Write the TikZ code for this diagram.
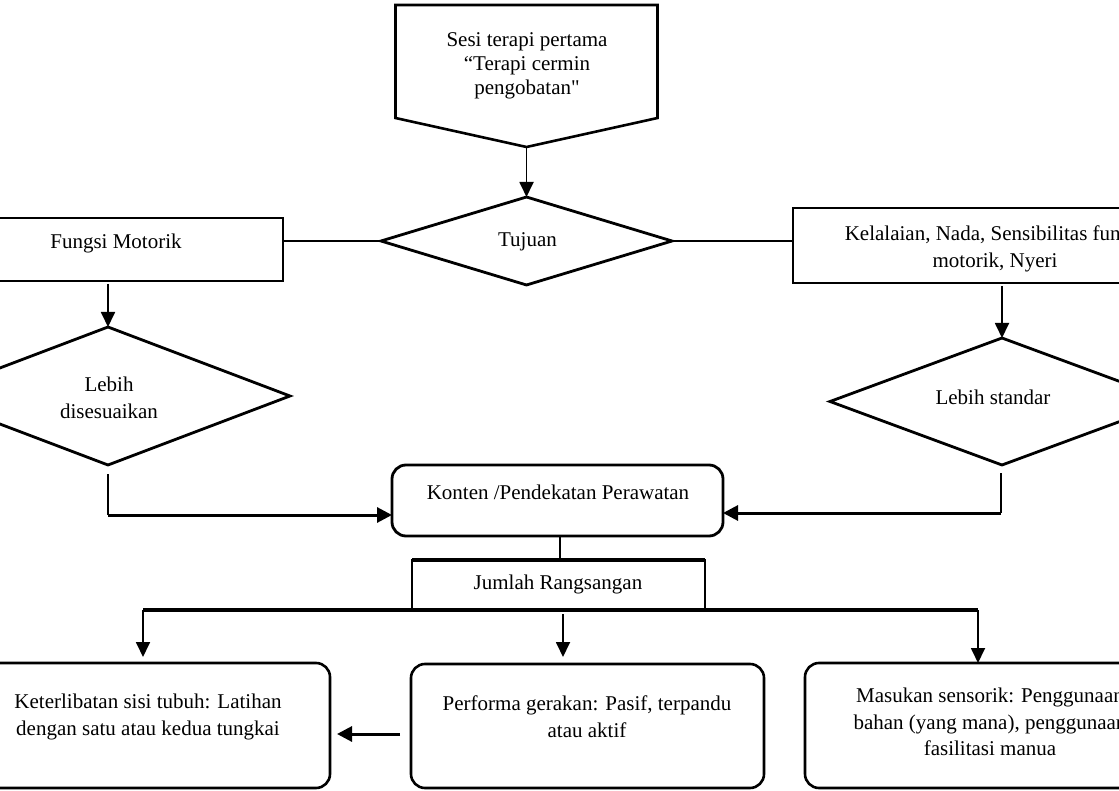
\documentclass[tikz,border=0pt]{standalone}
\usepackage{fontspec}
\setmainfont{Liberation Serif}[Ligatures=TeXOff]
\usetikzlibrary{shapes.geometric,arrows.meta,calc}
\begin{document}
\begin{tikzpicture}[x=1pt,y=-1pt,
  shapebox/.style={draw, line width=2.6pt, inner sep=0pt, outer sep=0pt},
  roundbox/.style={shapebox, rounded corners=14pt},
  dia/.style={draw, diamond, line width=2.8pt, inner sep=0pt, outer sep=0pt},
  lbl/.style={font=\fontsize{21}{27}\selectfont, align=center, inner sep=0pt},
  conn/.style={line width=1.8pt},
  arr/.style={conn, -{Triangle[length=15pt,width=14pt]}},
  thickarr/.style={line width=3pt, -{Triangle[length=15pt,width=15pt]}}]

\useasboundingbox (0,0) rectangle (1119,791);
\clip (0,0) rectangle (1119,791);

% top off-page shape
\node[inner sep=0pt, outer sep=0pt, minimum width=262pt, minimum height=113pt] (sesi) at (526.5,61.5) {};
\coordinate (sesitip) at ([yshift=-29pt]sesi.south);
\draw[line width=2.6pt, line join=miter] (sesi.north west) -- (sesi.north east) -- (sesi.south east) -- (sesitip) -- (sesi.south west) -- cycle;
\node[lbl, font=\fontsize{21}{24}\selectfont] (sesiT) at (527,66) {Sesi terapi pertama\\“Terapi cermin\\pengobatan"};

% Tujuan
\node[dia, minimum width=291pt, minimum height=88pt] (tujuan) at (526.5,241) {};
\node[lbl] (tujuanT) at (527.5,242) {Tujuan};

% side boxes
\node[shapebox, minimum width=334pt, minimum height=63pt] (fungsi) at (116,249.5) {};
\node[lbl] (fungsiT) at (116,243) {Fungsi Motorik};
\node[shapebox, minimum width=404pt, minimum height=75pt] (kelal) at (995,245.5) {};
\node[lbl] (kelalT) at (995,249) {Kelalaian, Nada, Sensibilitas fungsi\\motorik, Nyeri};

% side diamonds
\node[dia, minimum width=364pt, minimum height=138pt] (ld) at (108,396) {};
\node[lbl] (ldT) at (109,398) {Lebih\\disesuaikan};
\node[dia, minimum width=344pt, minimum height=127pt] (ls) at (1002,401.5) {};
\node[lbl] (lsT) at (993,397) {Lebih standar};

% Konten and Jumlah
\node[roundbox, line width=2.8pt, minimum width=331pt, minimum height=71pt] (konten) at (557.5,500.5) {};
\node[lbl] (kontenT) at (558,492) {Konten /Pendekatan Perawatan};
\node[shapebox, minimum width=293pt, minimum height=49pt] (jumlah) at (558.5,584.5) {};
\node[lbl] (jumlahT) at (558,584) {Jumlah Rangsangan};

% bottom boxes
\node[roundbox, minimum width=364pt, minimum height=125pt] (b1) at (148,725.5) {};
\node[lbl] (b1T) at (148,717) {Keterlibatan sisi tubuh: Latihan\\dengan satu atau kedua tungkai};
\node[roundbox, minimum width=353pt, minimum height=124pt] (b2) at (587.5,726) {};
\node[lbl] (b2T) at (587,717) {Performa gerakan: Pasif, terpandu\\atau aktif};
\node[roundbox, minimum width=370pt, minimum height=125pt] (b3) at (990,725.5) {};
\node[lbl, font=\fontsize{21}{26.5}\selectfont] (b3T) at (990,722) {Masukan sensorik: Penggunaan\\bahan (yang mana), penggunaan\\fasilitasi manua};

% connectors
\draw[arr] (sesitip) -- (tujuan.north);
\draw[line width=2.6pt] (tujuan.west) -- (tujuan.west -| fungsi.east);
\draw[line width=2.6pt] (tujuan.east) -- (tujuan.east -| kelal.west);
\draw[arr] (ld.north |- fungsi.south) ++(0,3) -- (ld.north);
\draw[arr] (ls.north |- kelal.south) ++(0,3) -- (ls.north);

\coordinate (kL) at (konten.west |- {(0,515)});
\coordinate (kR) at (konten.east |- {(0,513)});
\coordinate (ldS) at ([yshift=-9pt]ld.south);
\coordinate (lsS) at ([xshift=-1pt,yshift=-8pt]ls.south);
\draw[line width=2.2pt] (ldS) -- (ldS |- kL);
\draw[thickarr] (ldS |- kL) -- (kL);
\draw[line width=2.2pt] (lsS) -- (lsS |- kR);
\draw[thickarr] (lsS |- kR) -- (kR);

\draw[line width=1.4pt] (konten.south -| 560,0) -- (jumlah.north -| 560,0);
\draw[line width=3.8pt] (jumlah.north west) -- (jumlah.north east);

\coordinate (busL) at (143,610);
\coordinate (busR) at (978,610);
\coordinate (busM) at (563,614);
\draw[line width=3.5pt] (busL) -- (busR);
\draw[arr, shorten >=6pt] (busL) -- (busL |- b1.north);
\draw[arr, shorten >=7pt] (busM) -- (busM |- b2.north);
\draw[arr] (busR) -- (busR |- b3.north);

\coordinate (b2W) at (b2.west |- {(0,734)});
\coordinate (b1E) at (b1.east |- {(0,734)});
\draw[thickarr, shorten <=11pt, shorten >=7pt] (b2W) -- (b1E);
\end{tikzpicture}
\end{document}
